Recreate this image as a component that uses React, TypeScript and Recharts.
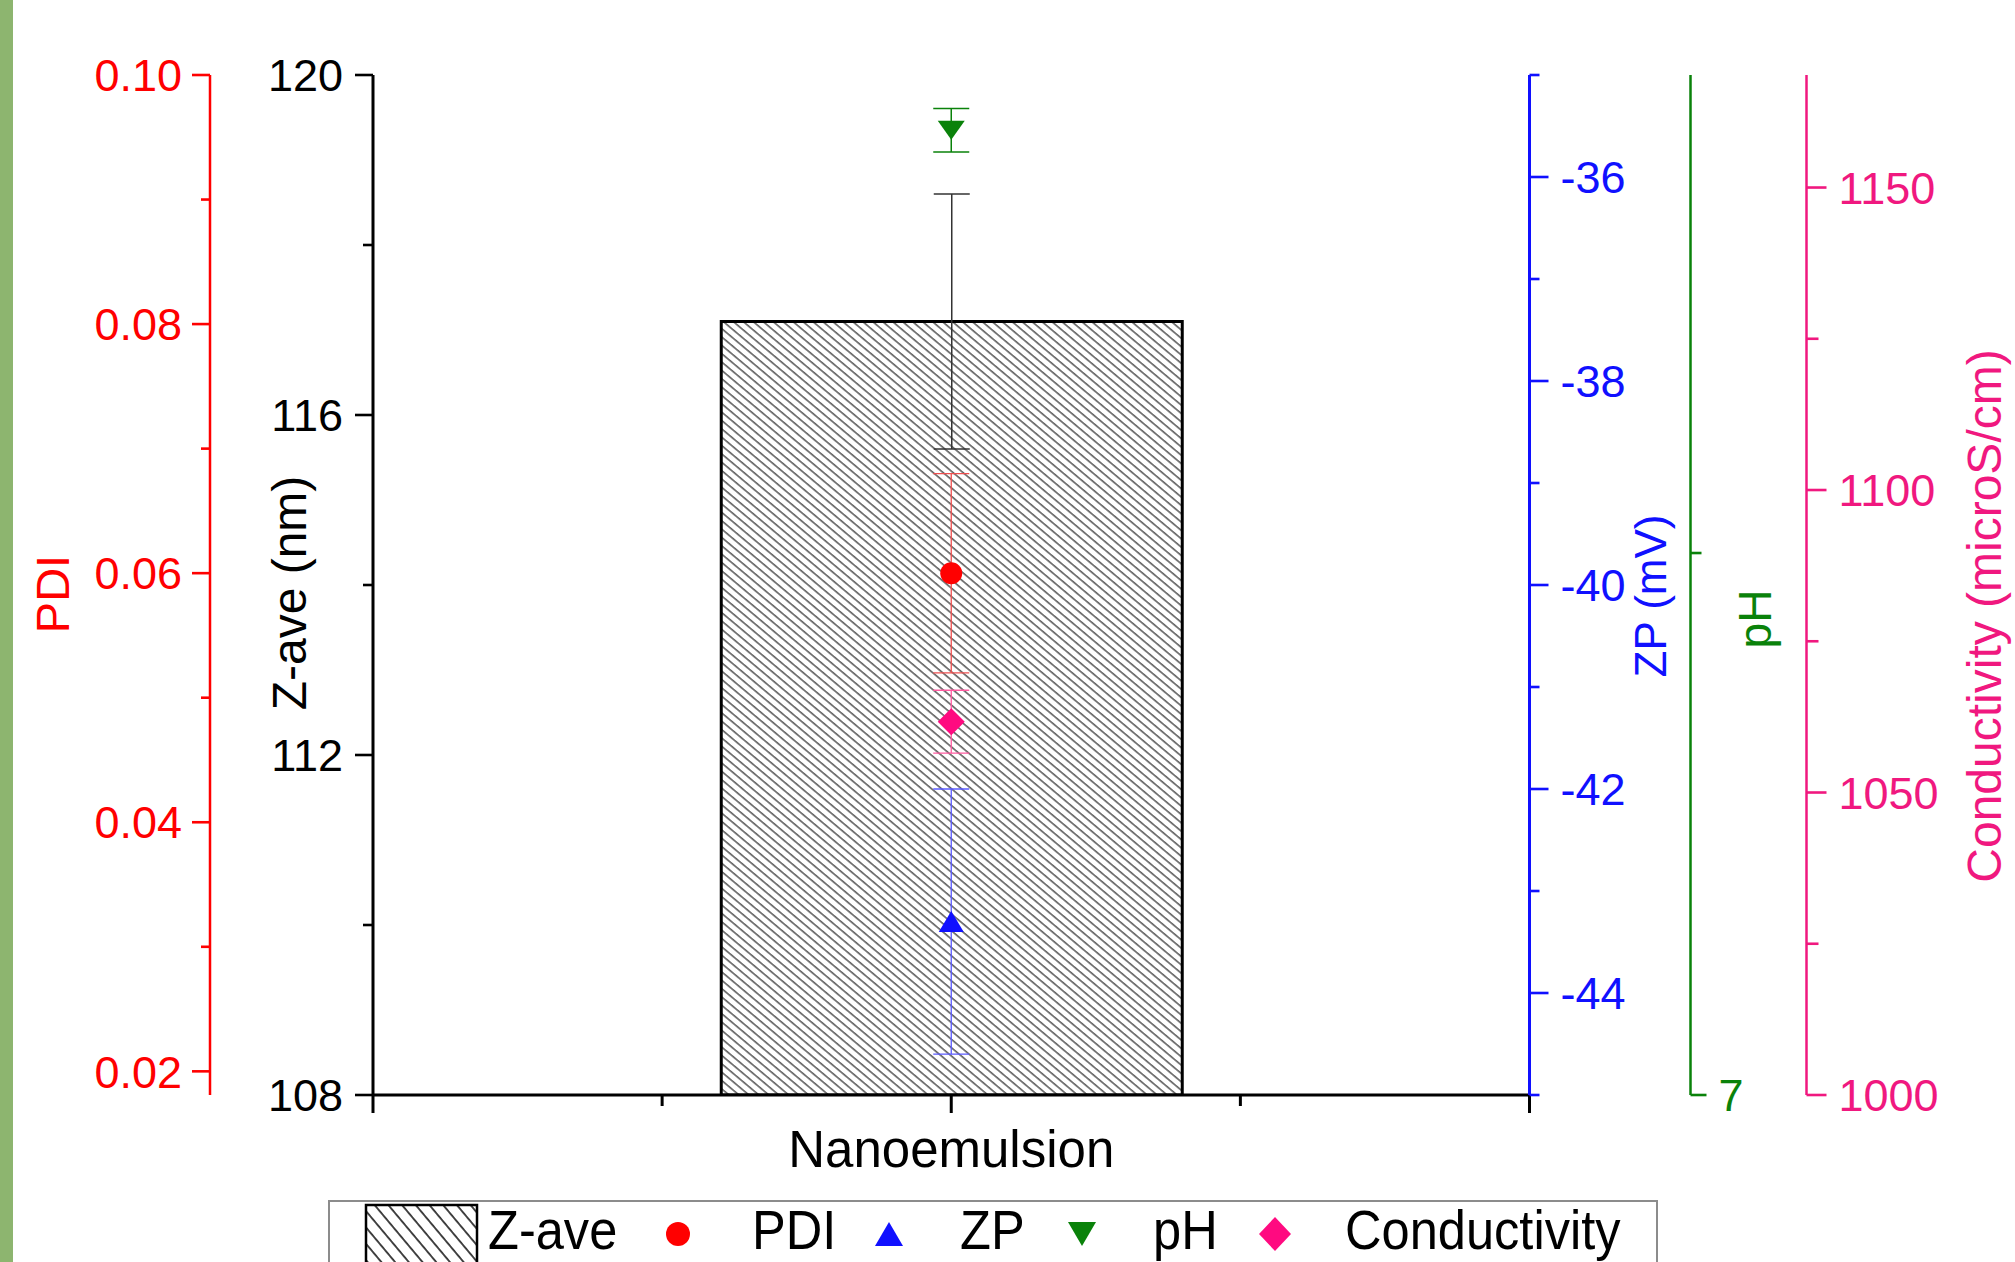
import React from 'react';
import { ComposedChart, Bar, Scatter, XAxis, YAxis, ErrorBar, Legend } from 'recharts';

// values
const categories = ['Nanoemulsion'];
const zaveValues = [117.1];
const zaveErrors = [1.5];
const pdiValues = [0.06];
const pdiErrors = [0.008];
const zpValues = [-43.3];
const zpErrors = [1.3];
const phValues = [7.89];
const phErrors = [0.02];
const condValues = [1061.7];
const condErrors = [5.2];

// axis ticks
const xMajor = [0, 1, 2];
const xMinor = [0.5, 1.5];
const zaveMajor = [108, 112, 116, 120];
const zaveMinor = [110, 114, 118];
const pdiMajor = [0.02, 0.04, 0.06, 0.08, 0.1];
const pdiMinor = [0.03, 0.05, 0.07, 0.09];
const zpMajor = [-44, -42, -40, -38, -36];
const zpMinor = [-45, -43, -41, -39, -37, -35];
const phMajor = [7];
const phMinor = [7.5];
const condMajor = [1000, 1050, 1100, 1150];
const condMinor = [1025, 1075, 1125];

const legendLabels = ['Z-ave', 'PDI', 'ZP', 'pH', 'Conductivity'];

const FONT = '"Liberation Sans", Arial, Helvetica, sans-serif';
const RED = '#ff0000';
const BLUE = '#1010ff';
const GREEN = '#0a820a';
const PINK = '#f0187f';
const PINK_MARK = '#ff0a80';

// axis ids: the stacking follows id order, inner axis first
const ID_ZAVE = 'a_zave';
const ID_PDI = 'b_pdi';
const ID_ZP = 'a_zp';
const ID_PH = 'b_ph';
const ID_COND = 'c_cond';

const data = categories.map((name, i) => ({
  name,
  pos: i + 1,
  zave: zaveValues[i],
  zaveErr: zaveErrors[i],
  pdi: pdiValues[i],
  pdiErr: pdiErrors[i],
  zp: zpValues[i],
  zpErr: zpErrors[i],
  ph: phValues[i],
  phErr: phErrors[i],
  cond: condValues[i],
  condErr: condErrors[i],
}));

const merge = (a: number[], b: number[]) => [...a, ...b].sort((p, q) => p - q);

const yTick =
  (side: 'left' | 'right', color: string, major: number[], fmt: (v: number) => string, majorLen: number, minorLen: number, gap: number) =>
  (props: any) => {
    const { x, y, payload } = props;
    const v = payload.value;
    const isMajor = major.some((m) => Math.abs(m - v) < 1e-6);
    const d = side === 'left' ? -1 : 1;
    return (
      <g>
        <line x1={x} y1={y} x2={x + d * (isMajor ? majorLen : minorLen)} y2={y} stroke={color} strokeWidth={2.6} />
        {isMajor && (
          <text x={x + d * gap} y={y} dy="0.36em" textAnchor={side === 'left' ? 'end' : 'start'} fill={color} fontSize={45} fontFamily={FONT}>
            {fmt(v)}
          </text>
        )}
      </g>
    );
  };

const axisTitle = (text: string, color: string, dx: number, dy: number, size: number) => (props: any) => {
  const vb = props.viewBox;
  const cx = vb.x + dx;
  const cy = vb.y + vb.height / 2 + dy;
  return (
    <text x={cx} y={cy} transform={`rotate(-90 ${cx} ${cy})`} textAnchor="middle" dominantBaseline="central" fill={color} fontSize={size} fontFamily={FONT}>
      {text}
    </text>
  );
};

const XTickBottom = (props: any) => {
  const { x, y, payload } = props;
  const v = payload.value;
  const isMajor = xMajor.includes(v);
  const label = isMajor ? categories[v - 1] : undefined;
  return (
    <g>
      <line x1={x} y1={y} x2={x} y2={y + (isMajor ? 18 : 11)} stroke="#000" strokeWidth={3} />
      {label && (
        <text x={x} y={y + 72} textAnchor="middle" fill="#000" fontSize={51} fontFamily={FONT}>
          {label}
        </text>
      )}
    </g>
  );
};

const XTickTop = (props: any) => {
  const { x, y, payload } = props;
  const isMajor = xMajor.includes(payload.value);
  return <line x1={x} y1={y} x2={x} y2={y + (isMajor ? 18 : 10)} stroke="#000" strokeWidth={3} />;
};

// marker shapes
const circleMark = (cx: number, cy: number, r: number) => <circle cx={cx} cy={cy} r={r} fill={RED} />;
const triMark = (cx: number, cy: number, w: number, h: number) => (
  <polygon points={`${cx - w / 2},${cy + h / 2} ${cx + w / 2},${cy + h / 2} ${cx},${cy - h / 2}`} fill={BLUE} />
);
const invTriMark = (cx: number, cy: number, w: number, h: number) => (
  <polygon points={`${cx - w / 2},${cy - h / 2} ${cx + w / 2},${cy - h / 2} ${cx},${cy + h / 2}`} fill={GREEN} />
);
const diamondMark = (cx: number, cy: number, w: number, h: number) => (
  <polygon points={`${cx},${cy - h / 2} ${cx + w / 2},${cy} ${cx},${cy + h / 2} ${cx - w / 2},${cy}`} fill={PINK_MARK} />
);

const LegendBox = () => {
  const textStyle = { fontSize: 55, fontFamily: FONT, fill: '#000' };
  const lx = [160, 424, 632, 825, 1017];
  return (
    <svg width={1330} height={62} style={{ display: 'block' }}>
      <defs>
        <pattern id="hatchLegend" patternUnits="userSpaceOnUse" width={10.5} height={20} patternTransform="rotate(-40)">
          <line x1={1} y1={0} x2={1} y2={20} stroke="#333" strokeWidth={1.8} />
        </pattern>
      </defs>
      <rect x={1} y={1} width={1328} height={80} fill="#fff" stroke="#8c8c8c" strokeWidth={2} />
      <rect x={38} y={5} width={111} height={80} fill="url(#hatchLegend)" stroke="#000" strokeWidth={2.5} />
      {circleMark(350, 34, 12)}
      {triMark(561, 34, 28, 24)}
      {invTriMark(754, 34, 28, 24)}
      {diamondMark(947, 34, 32, 34)}
      {legendLabels.map((t, i) => (
        <text key={t} transform={`translate(${lx[i]} 49) scale(0.92 1)`} {...textStyle}>
          {t}
        </text>
      ))}
    </svg>
  );
};

export default function App() {
  return (
    <div style={{ position: 'absolute', left: 0, top: 0, width: 2015, height: 1262, background: '#fff', overflow: 'hidden' }}>
      <div style={{ position: 'absolute', left: 0, top: 0, width: 13, height: 1262, background: '#8db56f' }} />
      <ComposedChart width={2015} height={1262} data={data} margin={{ top: 75, right: 0, bottom: 107, left: 0 }}>
        <defs>
          <pattern id="hatchBar" patternUnits="userSpaceOnUse" width={6.4} height={20} patternTransform="rotate(-50)">
            <line x1={1} y1={0} x2={1} y2={20} stroke="#555" strokeWidth={1.5} />
          </pattern>
        </defs>
        <XAxis
          xAxisId="bottom"
          dataKey="pos"
          type="number"
          domain={[0, categories.length + 1]}
          ticks={merge(xMajor, xMinor)}
          interval={0}
          allowDataOverflow
          height={60}
          tickSize={0}
          tickMargin={0}
          tickLine={false}
          axisLine={{ stroke: '#000', strokeWidth: 3 }}
          tick={XTickBottom}
        />
        <XAxis
          xAxisId="top"
          orientation="top"
          dataKey="pos"
          type="number"
          domain={[0, categories.length + 1]}
          ticks={xMinor.concat([1])}
          interval={0}
          allowDataOverflow
          height={0}
          tickSize={0}
          tickMargin={0}
          tickLine={false}
          axisLine={{ stroke: '#000', strokeWidth: 3 }}
          tick={XTickTop}
        />
        <YAxis
          yAxisId={ID_ZAVE}
          type="number"
          domain={[108, 120]}
          ticks={merge(zaveMajor, zaveMinor)}
          interval={0}
          allowDataOverflow
          width={163}
          tickSize={0}
          tickMargin={0}
          tickLine={false}
          axisLine={{ stroke: '#000', strokeWidth: 3 }}
          tick={yTick('left', '#000', zaveMajor, (v) => String(v), 18, 10, 30)}
          label={axisTitle('Z-ave (nm)', '#000', 79, 8, 48)}
        />
        <YAxis
          yAxisId={ID_PDI}
          type="number"
          domain={[0.0181, 0.1]}
          ticks={merge(pdiMajor, pdiMinor)}
          interval={0}
          allowDataOverflow
          width={210}
          tickSize={0}
          tickMargin={0}
          tickLine={false}
          axisLine={{ stroke: RED, strokeWidth: 2.5 }}
          tick={yTick('left', RED, pdiMajor, (v) => v.toFixed(2), 18, 9, 28)}
          label={axisTitle('PDI', RED, 52, 9, 47)}
        />
        <YAxis
          yAxisId={ID_ZP}
          orientation="right"
          type="number"
          domain={[-45, -35]}
          ticks={merge(zpMajor, zpMinor)}
          interval={0}
          allowDataOverflow
          width={161}
          tickSize={0}
          tickMargin={0}
          tickLine={false}
          axisLine={{ stroke: BLUE, strokeWidth: 3 }}
          tick={yTick('right', BLUE, zpMajor, (v) => String(v), 19, 10, 31)}
          label={axisTitle('ZP (mV)', BLUE, 121, 11, 44)}
        />
        <YAxis
          yAxisId={ID_PH}
          orientation="right"
          type="number"
          domain={[7, 7.941]}
          ticks={merge(phMajor, phMinor)}
          interval={0}
          allowDataOverflow
          width={116}
          tickSize={0}
          tickMargin={0}
          tickLine={false}
          axisLine={{ stroke: GREEN, strokeWidth: 2.5 }}
          tick={yTick('right', GREEN, phMajor, (v) => String(v), 16, 11, 28)}
          label={axisTitle('pH', GREEN, 64, 34, 46)}
        />
        <YAxis
          yAxisId={ID_COND}
          orientation="right"
          type="number"
          domain={[1000, 1168.6]}
          ticks={merge(condMajor, condMinor)}
          interval={0}
          allowDataOverflow
          width={208.5}
          tickSize={0}
          tickMargin={0}
          tickLine={false}
          axisLine={{ stroke: PINK, strokeWidth: 2.5 }}
          tick={yTick('right', PINK, condMajor, (v) => String(v), 20, 12, 32)}
          label={axisTitle('Conductivity (microS/cm)', PINK, 178, 31, 48)}
        />
        <Bar xAxisId="bottom" yAxisId={ID_ZAVE} dataKey="zave" barSize={461} fill="url(#hatchBar)" stroke="#000" strokeWidth={3} isAnimationActive={false}>
          <ErrorBar dataKey="zaveErr" width={18} stroke="#333" strokeWidth={1.5} />
        </Bar>
        <Scatter xAxisId="bottom" yAxisId={ID_PDI} dataKey="pdi" isAnimationActive={false} shape={(p: any) => circleMark(p.cx, p.cy, 11)}>
          <ErrorBar dataKey="pdiErr" direction="y" width={18} stroke="#f05050" strokeWidth={1.3} />
        </Scatter>
        <Scatter xAxisId="bottom" yAxisId={ID_ZP} dataKey="zp" isAnimationActive={false} shape={(p: any) => triMark(p.cx, p.cy, 25, 21)}>
          <ErrorBar dataKey="zpErr" direction="y" width={18} stroke="#5a5aff" strokeWidth={1.3} />
        </Scatter>
        <Scatter xAxisId="bottom" yAxisId={ID_PH} dataKey="ph" isAnimationActive={false} shape={(p: any) => invTriMark(p.cx, p.cy, 27, 19)}>
          <ErrorBar dataKey="phErr" direction="y" width={18} stroke={GREEN} strokeWidth={1.5} />
        </Scatter>
        <Scatter xAxisId="bottom" yAxisId={ID_COND} dataKey="cond" isAnimationActive={false} shape={(p: any) => diamondMark(p.cx, p.cy, 27, 27)}>
          <ErrorBar dataKey="condErr" direction="y" width={18} stroke="#ff5aa0" strokeWidth={1.3} />
        </Scatter>
        <Legend
          layout="horizontal"
          verticalAlign="middle"
          align="center"
          wrapperStyle={{ left: 328, top: 1200, width: 1330, height: 62 }}
          content={LegendBox}
        />
      </ComposedChart>
    </div>
  );
}
